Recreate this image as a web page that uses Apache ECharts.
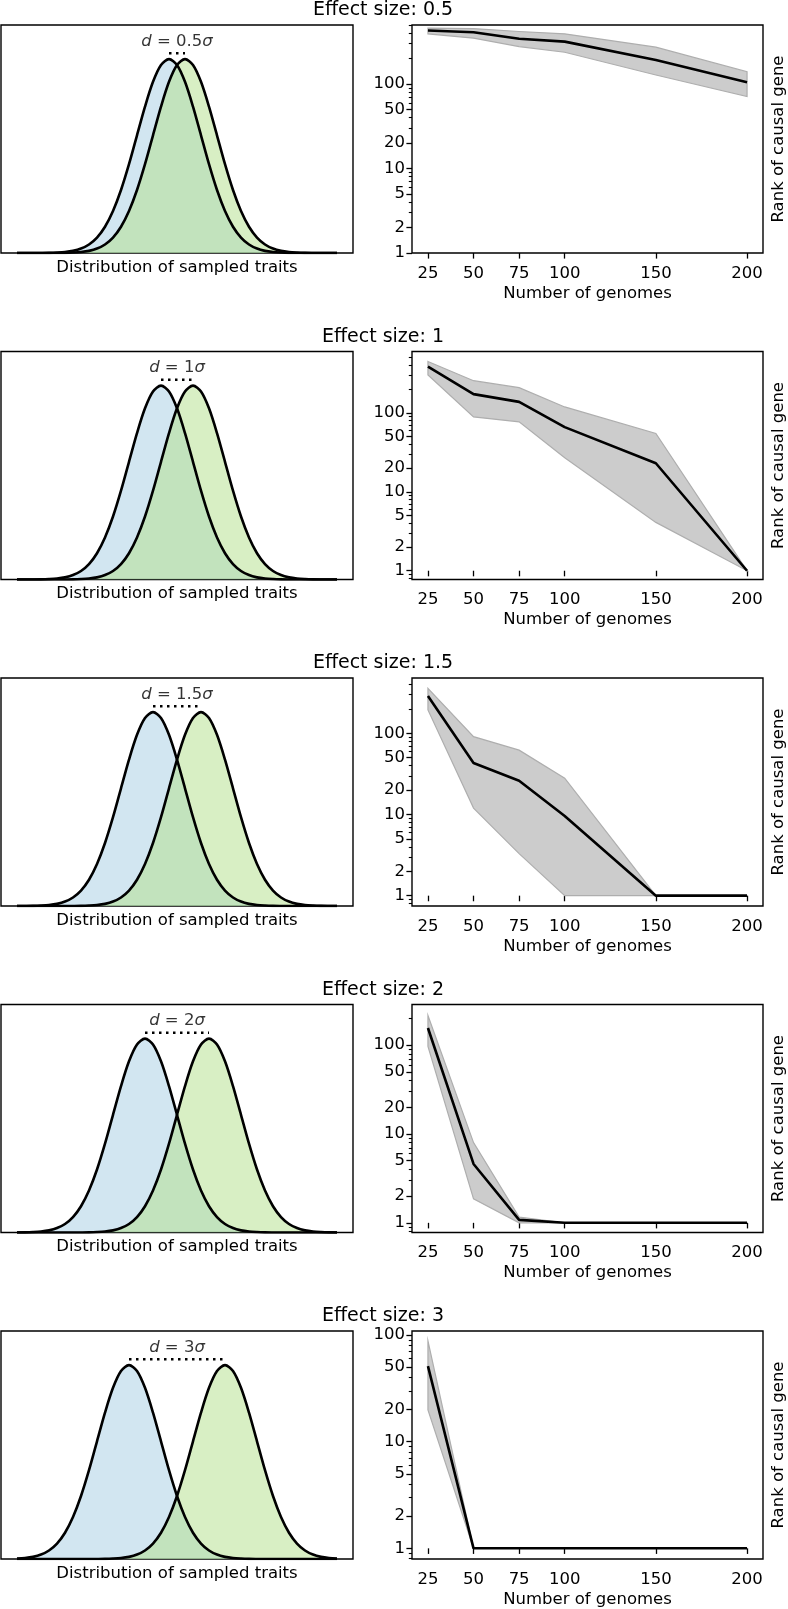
<!DOCTYPE html>
<html><head><meta charset="utf-8">
<script src="https://cdn.jsdelivr.net/npm/echarts@6/dist/echarts.min.js"></script>
<style>html,body{margin:0;padding:0;background:#fff}#c{width:788px;height:1609px}</style>
</head><body><div id="c"></div>
<script>
// ---------------- data ----------------
const genomes = [25, 50, 75, 100, 150, 200];
const effectSizes = [0.5, 1, 1.5, 2, 3];
const effectLabels = ['0.5', '1', '1.5', '2', '3'];

const median05 = [430, 411, 343, 318, 193, 105];
const upper05  = [459, 454, 419, 393, 273, 140];
const lower05  = [393, 349, 278, 238, 128, 71];

const median1 = [387, 173, 138, 66, 23, 1];
const upper1  = [448, 256, 209, 119, 55, 1];
const lower1  = [303, 89, 77, 27, 4.1, 1];

const median15 = [288, 43, 26, 9.6, 1, 1];
const upper15  = [358, 91, 62, 28, 1, 1];
const lower15  = [194, 12, 3.3, 1, 1, 1];

const median2 = [156, 4.6, 1.08, 1, 1, 1];
const upper2  = [216, 8, 1.16, 1, 1, 1];
const lower2  = [97, 1.86, 1, 1, 1, 1];

const median3 = [51, 1, 1, 1, 1, 1];
const upper3  = [88, 1, 1, 1, 1, 1];
const lower3  = [19.8, 1, 1, 1, 1, 1];

const xTicks = [25, 50, 75, 100, 150, 200];
const yTickLabels = [1, 2, 5, 10, 20, 50, 100];
const yMinorTicks = [0.8, 0.9, 3, 4, 6, 7, 8, 9, 30, 40, 60, 70, 80, 90, 200, 300, 400, 500];
const rankAxisMin = [1, 0.774, 0.746, 0.778, 0.794];
const rankAxisMax = [500, 600, 480, 287, 109];

// standard normal density at offsets 0, 0.25, ..., 5 (sigma units)
const normalPdf = [0.3989, 0.3867, 0.3521, 0.3011, 0.2420, 0.1826, 0.1295, 0.0863, 0.0540, 0.0317,
                   0.0175, 0.0091, 0.0044, 0.0020, 0.0009, 0.0003, 0.0001, 0, 0, 0, 0];
const pdfStep = 0.25;

const medians = [median05, median1, median15, median2, median3];
const uppers  = [upper05, upper1, upper15, upper2, upper3];
const lowers  = [lower05, lower1, lower15, lower2, lower3];

// ---------------- layout / style ----------------
const FONT = 'DejaVu Sans';
const FS = 16.5;
const TOP0 = 25, STEP = 326.5, H = 228;
const lg = Math.log10;

const traitGrid = [];
for (let i = -(normalPdf.length - 1); i <= normalPdf.length - 1; i++) traitGrid.push(i * pdfStep);
function curve(mu) {
  return traitGrid.map(x => {
    const idx = Math.round(Math.abs(x - mu) / pdfStep);
    return [x, idx < normalPdf.length ? normalPdf[idx] : 0];
  });
}

const grids = [], xAxes = [], yAxes = [], series = [], titles = [];
effectSizes.forEach((d, i) => {
  const top = TOP0 + STEP * i;
  const gL = 2 * i, gR = 2 * i + 1;
  const border = { show: true, borderColor: '#000', borderWidth: 1.4, backgroundColor: 'transparent' };
  grids.push(Object.assign({ left: 1, top: top, width: 352, height: H }, border));
  grids.push(Object.assign({ left: 412, top: top, width: 354, height: H }, border));

  titles.push({ text: 'Effect size: ' + effectLabels[i], left: 383, top: top - 24, textAlign: 'center', padding: 0,
    textStyle: { fontSize: 19, fontWeight: 'normal', color: '#000', fontFamily: FONT } });

  xAxes.push({ gridIndex: gL, type: 'value', min: -5.5, max: 5.5, axisLine: { show: false }, axisTick: { show: false },
    axisLabel: { show: false }, splitLine: { show: false },
    name: 'Distribution of sampled traits', nameLocation: 'middle', nameGap: 6,
    nameTextStyle: { fontSize: FS, color: '#000', fontFamily: FONT } });
  xAxes.push({ gridIndex: gR, type: 'value', min: 16.25, max: 208.75, axisLine: { show: false }, splitLine: { show: false },
    axisTick: { show: true, length: 5.6, lineStyle: { color: '#000', width: 1.3 }, customValues: xTicks },
    axisLabel: { show: true, customValues: xTicks, margin: 12, fontSize: FS, color: '#000', fontFamily: FONT },
    name: 'Number of genomes', nameLocation: 'middle', nameGap: 32,
    nameTextStyle: { fontSize: FS, color: '#000', fontFamily: FONT } });

  const ymin = rankAxisMin[i], ymax = rankAxisMax[i];
  const inR = v => v >= ymin && v <= ymax;
  yAxes.push({ gridIndex: gL, type: 'value', min: 0, max: 0.469, show: false });
  yAxes.push({ gridIndex: gR, type: 'value', min: lg(ymin), max: lg(ymax), position: 'left',
    axisLine: { show: false }, splitLine: { show: false },
    axisTick: { show: true, length: 5.6, lineStyle: { color: '#000', width: 1.3 }, customValues: yTickLabels.filter(inR).map(lg) },
    axisLabel: { show: true, customValues: yTickLabels.filter(inR).map(lg), margin: 7, fontSize: FS, color: '#000', fontFamily: FONT,
      formatter: v => String(Math.round(Math.pow(10, v))) } });
  yAxes.push({ gridIndex: gR, type: 'value', min: lg(ymin), max: lg(ymax), position: 'left',
    axisLine: { show: false }, splitLine: { show: false }, axisLabel: { show: false },
    axisTick: { show: true, length: 3.2, lineStyle: { color: '#000', width: 1.1 }, customValues: yMinorTicks.filter(inR).map(lg) } });
  yAxes.push({ gridIndex: gR, type: 'value', min: lg(ymin), max: lg(ymax), position: 'right',
    axisLine: { show: false }, splitLine: { show: false }, axisLabel: { show: false }, axisTick: { show: false },
    name: 'Rank of causal gene', nameLocation: 'middle', nameGap: 7, nameRotate: 90,
    nameTextStyle: { fontSize: FS, color: '#000', fontFamily: FONT } });

  const xL = gL, yL = 4 * i, xR = gR, yR = 4 * i + 1;
  series.push({ type: 'line', xAxisIndex: xL, yAxisIndex: yL, data: curve(-d / 2), smooth: 0.3, symbol: 'none',
    lineStyle: { width: 0 }, areaStyle: { color: '#a6cee3', opacity: 0.5 }, z: 2 });
  series.push({ type: 'line', xAxisIndex: xL, yAxisIndex: yL, data: curve(d / 2), smooth: 0.3, symbol: 'none',
    lineStyle: { width: 0 }, areaStyle: { color: '#b2df8a', opacity: 0.5 }, z: 2 });
  series.push({ type: 'line', xAxisIndex: xL, yAxisIndex: yL, data: curve(-d / 2), smooth: 0.3, symbol: 'none',
    lineStyle: { width: 2.6, color: '#000' }, z: 3 });
  series.push({ type: 'line', xAxisIndex: xL, yAxisIndex: yL, data: curve(d / 2), smooth: 0.3, symbol: 'none',
    lineStyle: { width: 2.6, color: '#000' }, z: 3 });
  series.push({ type: 'line', xAxisIndex: xL, yAxisIndex: yL, data: [[-d / 2, 0.411], [d / 2, 0.411]], symbol: 'none',
    lineStyle: { width: 2.5, color: '#000', type: [2.5, 4.5], cap: 'butt' }, z: 3 });
  series.push({ type: 'scatter', xAxisIndex: xL, yAxisIndex: yL, data: [[0, 0.435]], symbolSize: 1,
    itemStyle: { color: 'rgba(0,0,0,0)' }, silent: true,
    label: { show: true, position: 'inside', formatter: '{i|d} = ' + effectLabels[i] + '{i|σ}',
      fontSize: FS, color: '#000', fontFamily: FONT,
      rich: { i: { fontStyle: 'italic', fontSize: FS, color: '#000', fontFamily: FONT } } }, z: 4 });

  const lo = lowers[i], up = uppers[i], md = medians[i];
  series.push({ type: 'custom', xAxisIndex: xR, yAxisIndex: yR, silent: true,
    data: genomes.map((g, k) => [g, lg(lo[k]), lg(up[k])]),
    encode: { x: 0, y: [1, 2] },
    renderItem: (params, api) => {
      if (params.dataIndex !== 0) return null;
      const pts = [];
      for (let k = 0; k < genomes.length; k++) pts.push(api.coord([genomes[k], lg(up[k])]));
      for (let k = genomes.length - 1; k >= 0; k--) pts.push(api.coord([genomes[k], lg(lo[k])]));
      return { type: 'polygon', shape: { points: pts }, style: { fill: '#cccccc', stroke: '#aeaeae', lineWidth: 1.2 } };
    }, z: 2 });
  series.push({ type: 'line', xAxisIndex: xR, yAxisIndex: yR, symbol: 'none',
    data: genomes.map((g, k) => [g, lg(md[k])]), lineStyle: { color: '#000', width: 2.6 }, z: 3 });
});

const chart = echarts.init(document.getElementById('c'), null, { renderer: 'canvas' });
chart.setOption({
  animation: false,
  backgroundColor: '#fff',
  textStyle: { fontFamily: FONT },
  title: titles,
  grid: grids,
  xAxis: xAxes,
  yAxis: yAxes,
  series: series
});
</script>
</body></html>
